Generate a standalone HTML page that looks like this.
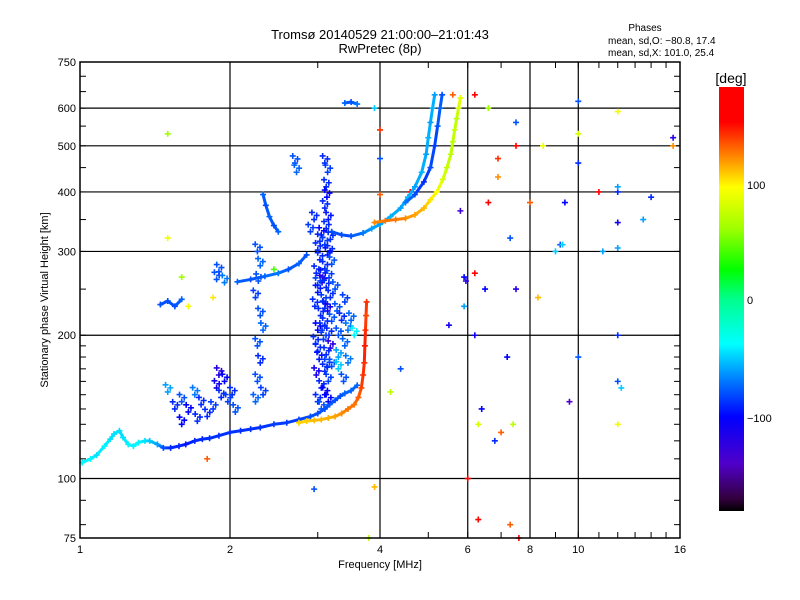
<!DOCTYPE html>
<html><head><meta charset="utf-8"><style>
body{margin:0;background:#fff;}
svg{display:block;font-family:"Liberation Sans","DejaVu Sans",sans-serif;}
</style></head><body>
<svg id="c" width="800" height="600" viewBox="0 0 800 600">
<defs>
<linearGradient id="cmap" x1="0" y1="0" x2="0" y2="1">
<stop offset="0" stop-color="#ff0000"/><stop offset="0.083" stop-color="#ff0000"/>
<stop offset="0.167" stop-color="#ff8c00"/><stop offset="0.236" stop-color="#ffff00"/>
<stop offset="0.333" stop-color="#a0ff00"/><stop offset="0.431" stop-color="#00ff00"/>
<stop offset="0.5" stop-color="#00ff8c"/><stop offset="0.606" stop-color="#00ffff"/>
<stop offset="0.694" stop-color="#0078ff"/><stop offset="0.778" stop-color="#0000ff"/>
<stop offset="0.889" stop-color="#5000c8"/><stop offset="0.972" stop-color="#32003c"/>
<stop offset="1" stop-color="#000000"/>
</linearGradient>
</defs>
<g id="plot"></g>
<text x="380" y="39" text-anchor="middle" font-size="13">Tromsø 20140529 21:00:00–21:01:43</text>
<text x="380" y="53" text-anchor="middle" font-size="13">RwPretec (8p)</text>
<text x="645" y="31" text-anchor="middle" font-size="10">Phases</text>
<text x="608" y="44" font-size="10">mean, sd,O: −80.8, 17.4</text>
<text x="608" y="56" font-size="10">mean, sd,X: 101.0, 25.4</text>
<text x="380" y="568" text-anchor="middle" font-size="11">Frequency [MHz]</text>
<text transform="translate(48,300) rotate(-90)" text-anchor="middle" font-size="11">Stationary phase Virtual Height [km]</text>
<g>
<text x="731" y="83" text-anchor="middle" font-size="14">[deg]</text>
<rect x="719" y="87" width="25" height="424" fill="url(#cmap)"/>
<text x="747" y="189" font-size="11">100</text>
<text x="747" y="304" font-size="11">0</text>
<text x="747" y="422" font-size="11">−100</text>
</g>
</svg>
<script>
const xTicks=[1,2,4,6,8,10,16];
const yTicks=[75,100,200,300,400,500,600,750];
const xGrid=[2,4,6,8,10];
const yGrid=[100,200,300,400,500,600];
// traces: [freq MHz, height km, phase deg]
const traceLowO=[[1.01,108,-40],[1.05,110,-40],[1.08,112,-45],[1.12,117,-40],[1.15,121,-45],[1.17,124,-45],[1.2,126,-45],[1.22,122,-45],[1.25,118,-40],[1.28,117,-40],[1.31,119,-40],[1.35,120,-45],[1.38,120,-50],[1.43,118,-60],[1.47,116,-80],[1.52,116,-90],[1.58,117,-90],[1.63,118,-95],[1.7,120,-90],[1.76,121,-90],[1.82,121.5,-88],[1.9,123,-88],[2.0,125,-88],[2.1,126,-88],[2.2,127,-88],[2.3,128,-88],[2.45,130,-85],[2.6,131,-85],[2.75,133,-85],[2.9,135,-80],[3.0,137,-80],[3.1,140,-80],[3.17,143,-78],[3.25,146,-80],[3.33,149,-80],[3.4,151,-75],[3.5,153,-75],[3.6,157,-75]];
const traceLowX=[[2.75,131,105],[2.85,132,105],[2.95,132.5,110],[3.05,133,110],[3.15,134,112],[3.25,135,115],[3.35,137,120],[3.45,140,125],[3.55,143,125],[3.62,148,130],[3.67,155,135],[3.7,165,140],[3.72,175,140],[3.73,190,145],[3.74,205,140],[3.75,220,135],[3.76,235,140]];
const traceUpO=[[3.2,330,-80],[3.35,325,-80],[3.5,323,-80],[3.7,328,-70],[3.85,335,-60],[4.0,342,-60],[4.2,355,-55],[4.4,370,-60],[4.55,390,-55],[4.7,410,-60],[4.85,440,-55],[4.95,480,-60],[5.0,520,-55],[5.05,560,-60],[5.1,600,-55],[5.15,640,-60]];
const traceUpO2=[[4.5,380,-70],[4.7,395,-80],[4.9,420,-90],[5.05,450,-80],[5.15,500,-85],[5.22,550,-80],[5.28,600,-75],[5.33,640,-80]];
const traceUpX=[[3.9,345,120],[4.1,348,125],[4.3,350,125],[4.5,352,120],[4.7,358,115],[4.9,370,110],[5.05,385,100],[5.2,400,95],[5.35,425,80],[5.45,450,75],[5.55,480,70],[5.6,510,70],[5.65,540,75],[5.7,570,70],[5.75,600,80],[5.8,630,85]];
const traceMid=[[2.07,259,-75],[2.2,262,-80],[2.35,266,-75],[2.5,270,-70],[2.62,275,-80],[2.75,283,-75],[2.85,295,-80]];
const traceBlob1=[[1.45,232,-80],[1.5,236,-80],[1.55,230,-80],[1.6,238,-75]];
const traceBlob2=[[2.33,395,-75],[2.36,375,-80],[2.4,355,-75],[2.45,340,-80],[2.5,330,-75]];
const traceBlob3=[[3.4,615,-75],[3.5,618,-80],[3.6,612,-70]];
const cloud=[[3.0,145,-90],[3.1,150,-100],[3.05,155,-90],[3.15,160,-85],[2.98,165,-110],[3.1,168,-90],[3.2,172,-80],[3.02,178,-95],[3.12,182,-90],[3.18,188,-120],[2.97,192,-90],[3.08,196,-85],[3.16,200,-90],[3.0,205,-100],[3.1,210,-90],[3.2,214,-80],[3.04,220,-90],[3.14,225,-110],[2.96,230,-90],[3.08,235,-85],[3.18,240,-90],[3.0,246,-95],[3.12,252,-90],[3.06,258,-120],[3.16,264,-85],[2.98,270,-90],[3.1,276,-90],[3.2,282,-80],[3.03,288,-90],[3.14,295,-95],[3.0,302,-90],[3.1,310,-85],[3.18,318,-90],[3.05,325,-100],[3.12,335,-90],[3.15,350,-95],[3.1,370,-90],[3.13,390,-100],[3.12,410,-90],[3.14,440,-85],[3.1,460,-90],[3.05,140,-80],[3.15,145,-100],[3.0,185,-90],[3.1,228,-90],[3.07,265,-95],[3.03,315,-90],[3.13,172,-85],[3.0,255,-85],[3.17,298,-90],[3.06,205,-90],[3.3,180,-60],[3.4,190,-75],[3.3,200,-80],[3.45,205,-70],[3.35,215,-90],[3.28,225,-80],[3.4,235,-85],[3.5,215,-75],[3.3,170,-50],[3.45,175,-70],[3.38,160,-80],[3.25,250,-80],[3.55,200,-40],
[2.27,300,-80],[2.3,280,-75],[2.28,260,-80],[2.25,240,-85],[2.3,220,-80],[2.33,205,-75],[2.27,190,-80],[2.3,175,-90],[2.27,160,-80],[2.33,150,-85],[2.25,145,-75],
[1.55,140,-90],[1.6,145,-80],[1.65,138,-100],[1.7,150,-70],[1.75,143,-90],[1.8,135,-90],[1.85,140,-85],[1.88,155,-110],[1.92,148,-90],[1.95,160,-100],[1.98,145,-85],[2.02,150,-90],[2.05,138,-80],[1.6,130,-100],[1.72,132,-90],[1.5,152,-60],[1.9,165,-120],[1.88,262,-80],[1.9,272,-80],[1.95,258,-70],[2.7,460,-80],[2.72,440,-75],[2.9,330,-85],[2.95,350,-90]];
const noise=[[1.5,530,60],[1.5,320,90],[1.6,265,60],[1.65,230,90],[1.85,240,100],[1.8,110,130],[2.45,275,40],[2.95,95,-80],[3.9,600,-50],[4.0,540,140],[4.0,470,-80],[4.0,395,130],[3.9,96,110],[3.8,75,70],[4.2,152,70],[4.4,170,-80],[4.6,400,160],[5.5,210,-110],[5.6,640,130],[5.8,365,-130],[5.9,265,-100],[5.9,230,-60],[5.95,260,-120],[6.0,100,150],[6.2,640,160],[6.2,270,170],[6.2,200,-110],[6.3,130,80],[6.4,140,-100],[6.3,82,150],[6.5,250,-100],[6.6,600,60],[6.6,380,170],[6.8,120,-90],[6.9,470,140],[6.9,430,120],[7.3,320,-80],[7.2,180,-100],[7.3,80,130],[7.5,500,170],[7.5,560,-80],[7.5,250,-120],[7.6,75,150],[7.4,130,70],[7.0,125,130],[8.0,380,130],[8.3,240,110],[8.5,500,90],[9.0,300,-50],[9.2,310,-80],[9.4,380,-100],[9.3,310,-50],[9.6,145,-140],[10.0,620,-80],[10.0,530,80],[10.0,460,-90],[10.0,180,-80],[11.0,400,150],[11.2,300,-60],[12.0,590,90],[12.0,400,-90],[12.0,345,-110],[12.0,305,-60],[12.0,200,-90],[12.0,160,-80],[12.0,130,90],[12.2,155,-50],[15.5,520,-120],[15.5,500,120],[13.5,350,-60],[14.0,390,-90],[12.0,410,-60]];

const X0=80,X1=680,Y0=62,Y1=538;
function xs(f){return X0+(X1-X0)*Math.log(f)/Math.log(16);}
function ys(h){return Y1-(Y1-Y0)*Math.log10(h/75);}
const stops=[[180,[255,0,0]],[150,[255,0,0]],[120,[255,140,0]],[95,[255,255,0]],[60,[160,255,0]],[25,[0,255,0]],[0,[0,255,140]],[-38,[0,255,255]],[-70,[0,120,255]],[-100,[0,0,255]],[-140,[80,0,200]],[-170,[50,0,60]],[-180,[0,0,0]]];
function col(p){p=Math.max(-180,Math.min(180,p));for(let i=0;i<stops.length-1;i++){const a=stops[i],b=stops[i+1];if(p<=a[0]&&p>=b[0]){const t=(a[0]-p)/(a[0]-b[0]||1);const c=a[1].map((v,k)=>Math.round(v+(b[1][k]-v)*t));return`rgb(${c[0]},${c[1]},${c[2]})`;}}return'#000';}
const NS='http://www.w3.org/2000/svg';
const g=document.getElementById('plot');
function mk(t,a,parent){const e=document.createElementNS(NS,t);for(const k in a)e.setAttribute(k,a[k]);(parent||g).appendChild(e);return e;}
xGrid.forEach(f=>{const l=mk('line',{x1:xs(f),x2:xs(f),y1:Y0,y2:Y1,stroke:'#000','stroke-width':1.2});

});
yGrid.forEach(h=>{const l=mk('line',{x1:X0,x2:X1,y1:ys(h),y2:ys(h),stroke:'#000','stroke-width':1.2});

});
for(let f=1;f<=16;f++){[[Y1,-6],[Y0,6]].forEach(([y,d])=>{const t=mk('line',{x1:xs(f),x2:xs(f),y1:y,y2:y+d,stroke:'#000'});

});}
const ymin=[80,90,100,110,120,130,140,150,160,170,180,190,200,250,300,350,400,450,500,550,600,650,700,750];
ymin.forEach(h=>{[[X0,6],[X1,-6]].forEach(([x,d])=>{const t=mk('line',{x1:x,x2:x+d,y1:ys(h),y2:ys(h),stroke:'#000'});

});});
xTicks.forEach(f=>{const t=mk('text',{x:xs(f),y:553,'text-anchor':'middle','font-size':11});t.textContent=f;

});
yTicks.forEach(h=>{const t=mk('text',{x:76,y:ys(h)+4,'text-anchor':'end','font-size':11});t.textContent=h;

});
function cross(p,name){const x=xs(p[0]),y=ys(p[1]),c=col(p[2]);
const e=mk('path',{d:`M${x-3},${y}h6M${x},${y-3}v6`,stroke:c,'stroke-width':1.6});

}
function trace(arr,name){for(let i=0;i<arr.length-1;i++){const a=arr[i],b=arr[i+1];
const s=mk('line',{x1:xs(a[0]),y1:ys(a[1]),x2:xs(b[0]),y2:ys(b[1]),stroke:col((a[2]+b[2])/2),'stroke-width':3,'stroke-linecap':'round'});

}
arr.forEach(p=>cross(p,name+'-point'));}
noise.forEach(p=>cross(p,'echo-point'));
cloud.forEach(p=>cross(p,'echo-cloud-point'));
cloud.forEach(p=>cross([p[0]*1.012,p[1]*1.02,p[2]],'echo-cloud-point'));
cloud.forEach(p=>cross([p[0]*0.99,p[1]*1.035,p[2]],'echo-cloud-point'));
trace(traceLowO,'o-trace-low');trace(traceLowX,'x-trace-low');trace(traceUpO,'o-trace-upper');
trace(traceUpO2,'o-trace-upper-2');trace(traceUpX,'x-trace-upper');trace(traceMid,'trace-mid');
trace(traceBlob1,'trace-blob-1');trace(traceBlob2,'trace-blob-2');trace(traceBlob3,'trace-blob-3');
const fr=mk('rect',{x:X0,y:Y0,width:X1-X0,height:Y1-Y0,fill:'none',stroke:'#000','stroke-width':1.5});


</script>
</body></html>
